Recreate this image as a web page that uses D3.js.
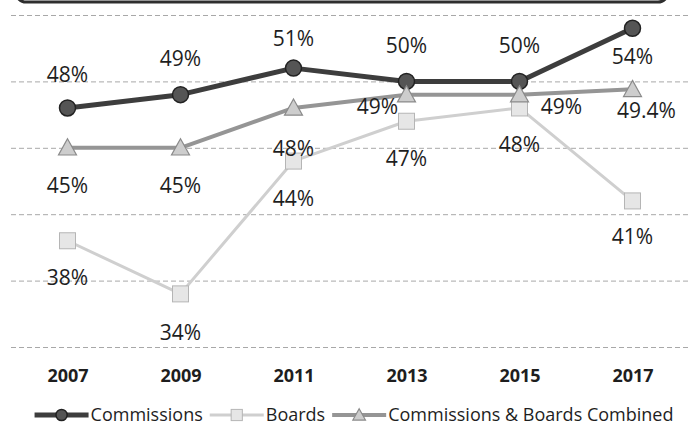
<!DOCTYPE html>
<html>
<head>
<meta charset="utf-8">
<script src="https://cdn.jsdelivr.net/npm/d3@7/dist/d3.min.js"></script>
<style>
  html, body { margin: 0; padding: 0; background: #fff; }
  svg { display: block; }
  text { font-family: "Open Sans", "Noto Sans", sans-serif; fill: #1e1e1e; }
</style>
</head>
<body>
<svg id="chart" width="695" height="434"></svg>
<script>
// ---- data ----
const years = ["2007", "2009", "2011", "2013", "2015", "2017"];
const commissions = [48, 49, 51, 50, 50, 54];
const boards = [38, 34, 44, 47, 48, 41];
const combined = [45, 45, 48, 49, 49, 49.4];
const commissionsLabels = ["48%", "49%", "51%", "50%", "50%", "54%"];
const boardsLabels = ["38%", "34%", "44%", "47%", "48%", "41%"];
const combinedLabels = ["45%", "45%", "48%", "49%", "49%", "49.4%"];
const yTicks = [30, 35, 40, 45, 50, 55];
const seriesNames = ["Commissions", "Boards", "Commissions & Boards Combined"];

// ---- layout ----
const svg = d3.select("#chart");
const plot = { left: 11, right: 689, top: 15, bottom: 347 };

const x = d3.scalePoint().domain(years).range([plot.left, plot.right]).padding(0.5);
const y = d3.scaleLinear().domain([30, 55]).range([plot.bottom, plot.top]);

// top border remnant (bottom edge of a title box)
svg.append("rect")
  .attr("x", 16).attr("y", -40).attr("width", 652).attr("height", 42)
  .attr("rx", 10).attr("ry", 10)
  .attr("fill", "none").attr("stroke", "#2e2e2e").attr("stroke-width", 3);

// gridlines via axis
const grid = svg.append("g")
  .attr("transform", `translate(${plot.left},0)`)
  .call(d3.axisRight(y).tickValues(yTicks).tickSize(plot.right - plot.left).tickFormat(""));
grid.select(".domain").remove();
grid.selectAll(".tick line")
  .attr("stroke", "#a8a8a8").attr("stroke-width", 1).attr("stroke-dasharray", "5,3");

// x axis labels
const xAxis = svg.append("g")
  .attr("transform", `translate(0,${plot.bottom})`)
  .call(d3.axisBottom(x).tickSize(0).tickPadding(22));
xAxis.select(".domain").remove();
xAxis.selectAll("text")
  .style("font-family", '"Open Sans", sans-serif')
  .style("font-size", "18px").style("font-weight", "bold").attr("fill", "#1a1a1a");

const styles = [
  { values: commissions, labels: commissionsLabels, stroke: "#3d3d3d", width: 5, marker: "circle",
    mfill: "#555", mstroke: "#222", size: 8,
    offs: [[0, -34], [0, -36], [0, -30], [0, -36], [0, -36], [0, 28]] },
  { values: boards, labels: boardsLabels, stroke: "#cfcfcf", width: 3, marker: "square",
    mfill: "#e6e6e6", mstroke: "#b5b5b5", size: 8,
    offs: [[0, 37], [0, 39], [0, 37], [0, 37], [0, 36], [0, 36]] },
  { values: combined, labels: combinedLabels, stroke: "#959595", width: 4, marker: "triangle",
    mfill: "#cdcdcd", mstroke: "#8a8a8a", size: 9,
    offs: [[0, 38], [0, 38], [0, 40], [-29, 12], [42, 12], [14, 21]] }
];

const line = d3.line().x((d, i) => x(years[i])).y(d => y(d));

function drawMarker(g, type, cx, cy, s, fill, stroke) {
  if (type === "circle") {
    g.append("circle").attr("cx", cx).attr("cy", cy).attr("r", s)
      .attr("fill", fill).attr("stroke", stroke).attr("stroke-width", 1.5);
  } else if (type === "square") {
    g.append("rect").attr("x", cx - s).attr("y", cy - s).attr("width", 2 * s).attr("height", 2 * s)
      .attr("fill", fill).attr("stroke", stroke).attr("stroke-width", 1);
  } else {
    g.append("path")
      .attr("d", `M${cx},${cy - s} L${cx + s},${cy + s * 0.8} L${cx - s},${cy + s * 0.8} Z`)
      .attr("fill", fill).attr("stroke", stroke).attr("stroke-width", 1.2);
  }
}

const seriesG = svg.append("g");
styles.forEach(s => {
  const g = seriesG.append("g");
  g.append("path").datum(s.values)
    .attr("d", line).attr("fill", "none")
    .attr("stroke", s.stroke).attr("stroke-width", s.width)
    .attr("stroke-linejoin", "round").attr("stroke-linecap", "round");
  s.values.forEach((v, i) => drawMarker(g, s.marker, x(years[i]), y(v), s.size, s.mfill, s.mstroke));
});

// data labels
const labelsG = svg.append("g");
styles.forEach(s => {
  s.values.forEach((v, i) => {
    labelsG.append("text")
      .attr("x", x(years[i]) + s.offs[i][0])
      .attr("y", y(v) + s.offs[i][1])
      .attr("dy", "0.36em")
      .attr("text-anchor", "middle")
      .style("font-size", "21px")
      .text(s.labels[i]);
  });
});

// legend
const legend = svg.append("g");
const symW = 54, gapAfterSym = 2, gapItem = 7, legY = 415;
let cursor = 0;
const items = [];
seriesNames.forEach((name, i) => {
  const s = styles[i];
  const g = legend.append("g").attr("transform", `translate(${cursor},0)`);
  g.append("line").attr("x1", 0).attr("x2", symW).attr("y1", legY).attr("y2", legY)
    .attr("stroke", s.stroke).attr("stroke-width", s.width);
  drawMarker(g, s.marker, symW / 2, legY, s.size * 0.7, s.mfill, s.mstroke);
  const t = g.append("text").attr("x", symW + gapAfterSym).attr("y", legY).attr("dy", "0.36em")
    .style("font-size", "18px").text(name);
  const w = t.node().getComputedTextLength();
  cursor += symW + gapAfterSym + w + gapItem;
});
const totalW = cursor - gapItem;
legend.attr("transform", `translate(${(plot.left + plot.right) / 2 - totalW / 2 + 4},0)`);
</script>
</body>
</html>
